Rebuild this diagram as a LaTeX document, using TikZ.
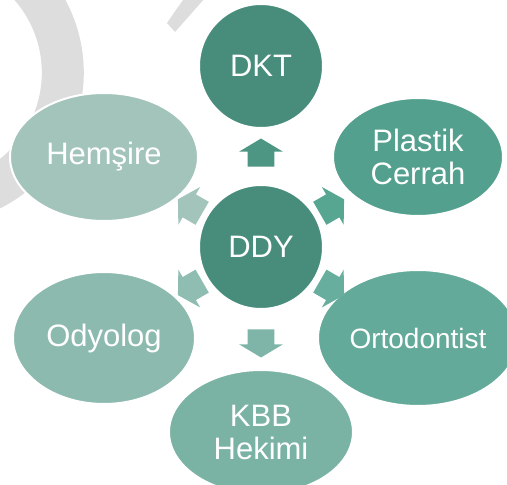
\documentclass[tikz,border=0pt]{standalone}
\usepackage{fontspec}
\setmainfont{Liberation Sans}
\usetikzlibrary{shapes.geometric,shapes.arrows,calc}

\definecolor{cDark}{RGB}{72,141,123}
\definecolor{cPC}{RGB}{82,160,141}
\definecolor{cORT}{RGB}{100,170,154}
\definecolor{cKBB}{RGB}{122,178,164}
\definecolor{cODY}{RGB}{141,186,175}
\definecolor{cHEM}{RGB}{163,196,187}
\definecolor{aDKT}{RGB}{76,150,131}
\definecolor{aPC}{RGB}{86,166,146}
\definecolor{aORT}{RGB}{104,174,158}
\definecolor{aKBB}{RGB}{126,181,168}
\definecolor{aODY}{RGB}{143,189,178}
\definecolor{aHEM}{RGB}{163,196,187}
\definecolor{bandgrey}{RGB}{221,221,221}

\begin{document}
\begin{tikzpicture}[x=0.75pt,y=0.75pt,
  bub/.style={ellipse,draw=white,line width=1.5pt,text=white,inner sep=0pt,align=center,
    font=\fontsize{23.25}{24.75}\selectfont},
  blk/.style={single arrow,draw=none,inner xsep=0pt,inner ysep=9.75pt,minimum height=21pt,
    single arrow head extend=6.4pt,single arrow tip angle=118,single arrow head indent=0pt}]
\useasboundingbox (0,0) rectangle (507,485);
\clip (0,0) rectangle (507,485);

%grey bands behind
\draw[bandgrey,line width=31.5pt] (-68.2,412.4) ++(45:131) arc[start angle=45,end angle=-75,radius=131];
\fill[bandgrey] (167,462) -- (175,453) .. controls (190,470) .. (213,496) -- (191,496) .. controls (178,478) .. cycle;

%centre and outer nodes
\node[bub,circle,fill=cDark,minimum size=93pt] (ddy) at (261,238) {DDY};
\node[bub,circle,fill=cDark,minimum size=93pt] (dkt) at (261,419) {DKT};
\node[bub,fill=cPC,minimum width=127.5pt,minimum height=88.5pt] (pc) at (418,328) {Plastik\\Cerrah};
\node[bub,fill=cORT,minimum width=150pt,minimum height=102pt,font=\fontsize{21}{24}\selectfont] (ort) at (418,147) {Ortodontist};
\node[bub,fill=cKBB,minimum width=138pt,minimum height=93pt] (kbb) at (261,53) {KBB\\Hekimi};
\node[bub,fill=cODY,minimum width=136.5pt,minimum height=99pt] (ody) at (104,147) {Odyolog};
\node[bub,fill=cHEM,minimum width=141pt,minimum height=96pt] (hem) at (104,328) {Hemşire};

%block arrows
\foreach \tgt/\ang/\pos/\col in {dkt/90/0.5/aDKT, pc/30/0.43/aPC, ort/-30/0.43/aORT,
    kbb/-90/0.5/aKBB, ody/-150/0.43/aODY, hem/150/0.43/aHEM}
  \node[blk,fill=\col,rotate=\ang] (a-\tgt) at ($(ddy)!\pos!(\tgt)$) {};

\end{tikzpicture}
\end{document}
